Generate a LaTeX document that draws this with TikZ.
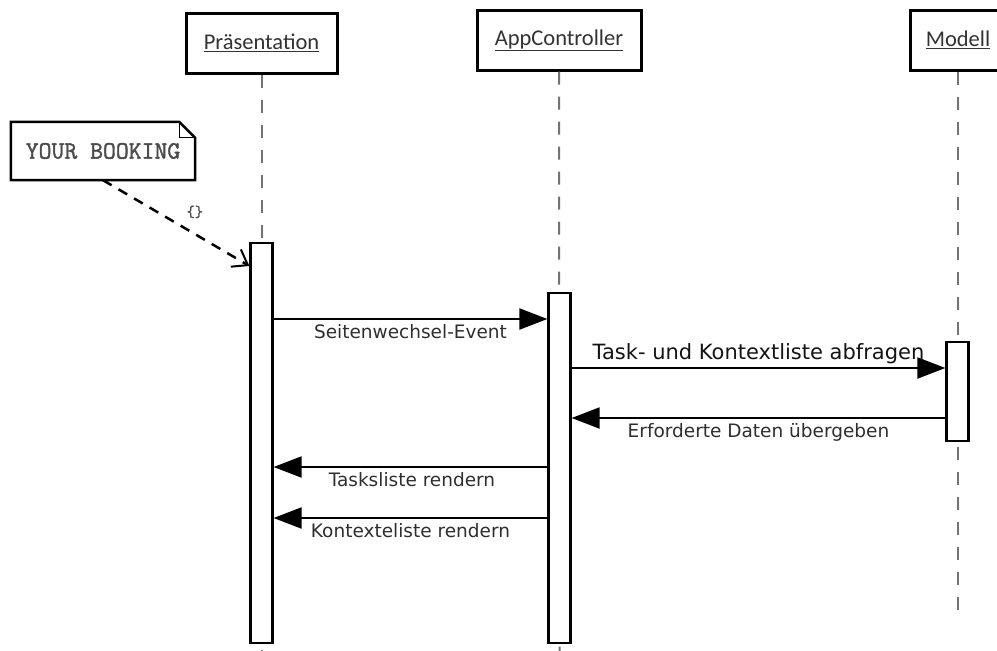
\documentclass[tikz,border=0pt]{standalone}
\usepackage{fontspec}
\setmainfont{DejaVu Sans}
\newfontfamily\headfont{Carlito}
\newfontfamily\notefont[FakeBold=1.5]{Latin Modern Mono}
\usetikzlibrary{arrows.meta,calc}
\begin{document}
\begin{tikzpicture}[x=1pt,y=-1pt,
  objbox/.style={draw=black,line width=3pt,fill=white,minimum height=60pt,inner sep=0pt,
    text=black!80,font=\headfont\fontsize{22.5}{26}\selectfont},
  lifeline/.style={draw=black!55,line width=2pt,dash pattern=on 13pt off 12pt},
  actbar/.style={draw=black,line width=2.2pt,fill=white,minimum width=22pt,inner sep=0pt},
  msg/.style={draw=black,line width=2pt,-{Triangle[length=28pt,width=21pt]}},
  msglabel/.style={font=\fontsize{18.5}{22}\selectfont,text=black!82,inner sep=0pt},
  notelink/.style={draw=black,line width=2.5pt,dash pattern=on 10pt off 8pt,
    -{Straight Barb[length=14pt,width=20pt,line width=2pt]}},
]
\useasboundingbox (0,0) rectangle (997,651);
\clip (0,0) rectangle (997,651);

% participants
\node[objbox,minimum width=151pt] (pres) at (261.5,43) {\underline{Präsentation}};
\node[objbox,minimum width=164pt] (ctrl) at (559,40) {\underline{AppController}};
\node[objbox,minimum width=96pt] (model) at (958,40) {\underline{Modell}};

% lifeline ends
\coordinate (presend) at (261.5,651);
\coordinate (ctrlend) at (559.5,651);
\coordinate (modelend) at (958,615);

\draw[lifeline] (pres.south) -- (presend);
\draw[lifeline] (ctrl.south) -- (ctrlend);
\draw[lifeline] (model.south) -- (modelend);

% activation bars
\node[actbar,minimum height=400pt] (pact) at (261.5,443) {};
\node[actbar,minimum height=350pt] (cact) at (559.5,468) {};
\node[actbar,minimum height=99pt] (mact) at (957.5,391.5) {};

% note
\node[minimum width=184pt,minimum height=58pt,inner sep=0pt,text=black!70,
  font=\notefont\fontsize{25}{28}\selectfont] (note) at (103,151) {YOUR BOOKING};
\draw[line width=2.5pt,line join=miter]
  (note.north west) -- ($(note.north east)+(-16,0)$) -- ($(note.north east)+(0,16)$)
  -- (note.south east) -- (note.south west) -- cycle;
\draw[line width=1.2pt] ($(note.north east)+(-16,0)$) |- ($(note.north east)+(0,16)$);

% note link
\draw[notelink] (note.south) -- (pact.west |- 0,266)
  node[pos=0.6,above=9pt,xshift=4pt,font=\notefont\fontsize{16}{18}\selectfont,text=black!70] (brace) {\{\}};

% messages
\draw[msg] (pact.east |- 0,319) -- (cact.west |- 0,319)
  node[msglabel,midway,below=4pt] (m1) {Seitenwechsel-Event};
\draw[msg] (cact.east |- 0,368) -- (mact.west |- 0,368)
  node[msglabel,midway,above=3pt,font=\fontsize{21}{24}\selectfont,text=black!92] (m2) {Task- und Kontextliste abfragen};
\draw[msg] (mact.west |- 0,418) -- (cact.east |- 0,418)
  node[msglabel,midway,below=4pt] (m3) {Erforderte Daten übergeben};
\draw[msg] (cact.west |- 0,467) -- (pact.east |- 0,467)
  node[msglabel,midway,below=4pt,xshift=1.5pt] (m4) {Tasksliste rendern};
\draw[msg] (cact.west |- 0,518) -- (pact.east |- 0,518)
  node[msglabel,midway,below=4pt] (m5) {Kontexteliste rendern};
\end{tikzpicture}
\end{document}
